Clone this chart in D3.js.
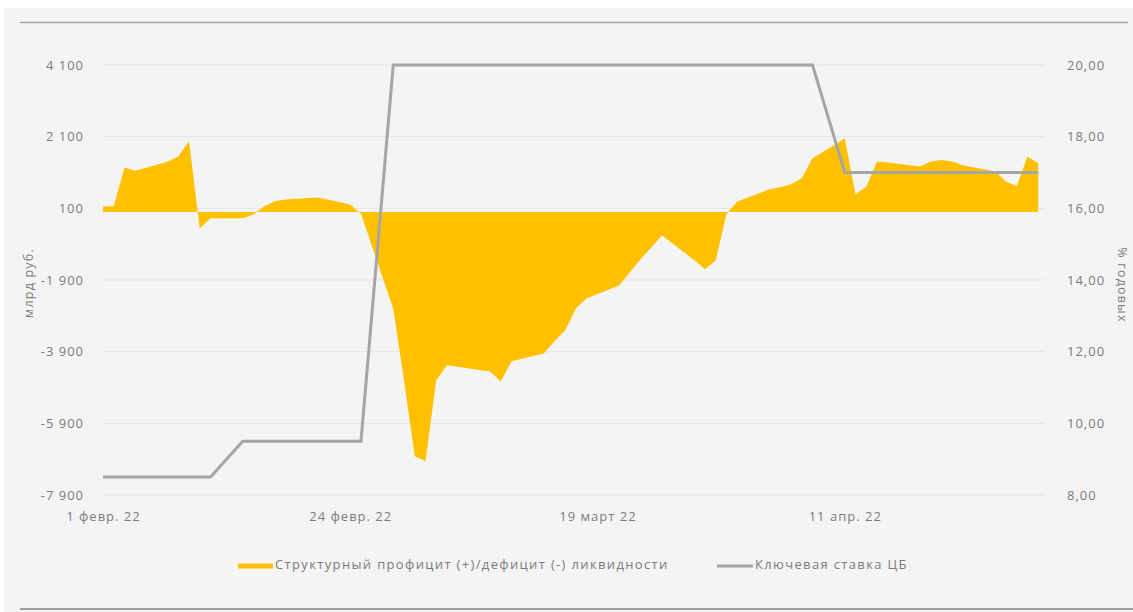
<!DOCTYPE html>
<html>
<head>
<meta charset="utf-8">
<script src="https://cdn.jsdelivr.net/npm/d3@7"></script>
<style>
  html, body { margin: 0; padding: 0; background: #ffffff; }
  svg { display: block; }
  text { font-family: "Open Sans", "DejaVu Sans", sans-serif; fill: #7b7b7b; }
</style>
</head>
<body>
<svg id="chart" width="1133" height="612"></svg>
<script>
// ---- Data ----
const dates = [
  "2022-02-01","2022-02-02","2022-02-03","2022-02-04","2022-02-07","2022-02-08","2022-02-09","2022-02-10","2022-02-11",
  "2022-02-14","2022-02-15","2022-02-16","2022-02-17","2022-02-18","2022-02-21","2022-02-22","2022-02-24","2022-02-25",
  "2022-02-28","2022-03-01","2022-03-02","2022-03-03","2022-03-04","2022-03-05","2022-03-09","2022-03-10","2022-03-11",
  "2022-03-14","2022-03-15","2022-03-16","2022-03-17","2022-03-18","2022-03-21","2022-03-22","2022-03-23","2022-03-24",
  "2022-03-25","2022-03-28","2022-03-29","2022-03-30","2022-03-31","2022-04-01","2022-04-04","2022-04-05","2022-04-06",
  "2022-04-07","2022-04-08","2022-04-11","2022-04-12","2022-04-13","2022-04-14","2022-04-15","2022-04-18","2022-04-19",
  "2022-04-20","2022-04-21","2022-04-22","2022-04-25","2022-04-26","2022-04-27","2022-04-28","2022-04-29"
];
const liquidity = [
  150, 160, 1240, 1150, 1400, 1550, 1970, -460, -180,
  -180, -70, 160, 300, 350, 400, 340, 210, -50,
  -2700, -4700, -6820, -6960, -4700, -4280, -4450, -4730, -4170,
  -3950, -3610, -3300, -2690, -2410, -2050, -1690, -1320, -990,
  -650, -1350, -1600, -1350, -60, 290, 630, 690, 770,
  940, 1500, 2050, 490, 700, 1410, 1380, 1270, 1410,
  1450, 1410, 1300, 1130, 850, 720, 1550, 1360
];
const keyRate = [
  8.5, 8.5, 8.5, 8.5, 8.5, 8.5, 8.5, 8.5, 8.5,
  9.5, 9.5, 9.5, 9.5, 9.5, 9.5, 9.5, 9.5, 9.5,
  20, 20, 20, 20, 20, 20, 20, 20, 20,
  20, 20, 20, 20, 20, 20, 20, 20, 20,
  20, 20, 20, 20, 20, 20, 20, 20, 20,
  20, 20, 17, 17, 17, 17, 17, 17, 17,
  17, 17, 17, 17, 17, 17, 17, 17
];
const leftTicks = [-7900, -5900, -3900, -1900, 100, 2100, 4100];
const rightTicks = [8, 10, 12, 14, 16, 18, 20];
const xTickDates = ["2022-02-01", "2022-02-24", "2022-03-19", "2022-04-11"];
const xTickLabels = ["1 февр. 22", "24 февр. 22", "19 март 22", "11 апр. 22"];
const seriesNames = ["Структурный профицит (+)/дефицит (-) ликвидности", "Ключевая ставка ЦБ"];
const leftTitle = "млрд руб.";
const rightTitle = "% годовых";

// ---- Setup ----
const parse = d3.timeParse("%Y-%m-%d");
const data = dates.map((d, i) => ({ date: parse(d), liq: liquidity[i], rate: keyRate[i] }));

const svg = d3.select("#chart");
const W = 1133, H = 612;
const plot = { left: 103, right: 1038.25, top: 65, bottom: 495 };

const x = d3.scaleTime()
  .domain([parse("2022-02-01"), parse("2022-04-29")])
  .range([plot.left, plot.right]);
const yL = d3.scaleLinear().domain([-7900, 4100]).range([plot.bottom, plot.top]);
const yR = d3.scaleLinear().domain([8, 20]).range([plot.bottom, plot.top]);

const FONT = 13;
const LS = "1px";

// background panel
svg.append("rect").attr("x", 4).attr("y", 8).attr("width", W - 4).attr("height", H - 8).attr("fill", "#f4f4f4");
// frame lines
svg.append("line").attr("x1", 20).attr("x2", 1128).attr("y1", 22.5).attr("y2", 22.5)
  .attr("stroke", "#a3a3a3").attr("stroke-width", 1.5);
svg.append("line").attr("x1", 20).attr("x2", W).attr("y1", 609).attr("y2", 609)
  .attr("stroke", "#9c9c9c").attr("stroke-width", 2);

// gridlines
svg.append("g").selectAll("line").data(leftTicks).join("line")
  .attr("x1", plot.left).attr("x2", 1045)
  .attr("y1", d => yL(d)).attr("y2", d => yL(d))
  .attr("stroke", "#e3e3e3").attr("stroke-width", 1);

// area
const area = d3.area()
  .x(d => x(d.date))
  .y0(yL(0))
  .y1(d => yL(d.liq));
svg.append("path").datum(data).attr("d", area).attr("fill", "#FFC000");

// rate line
const line = d3.line().x(d => x(d.date)).y(d => yR(d.rate));
svg.append("path").datum(data).attr("d", line)
  .attr("fill", "none").attr("stroke", "#a5a5a5").attr("stroke-width", 3).attr("stroke-linejoin", "miter");

function styleTicks(g) {
  g.select(".domain").remove();
  g.selectAll("text").attr("font-size", FONT).attr("fill", "#7b7b7b")
    .style("font-family", "'Open Sans', sans-serif").style("letter-spacing", LS);
}

// left axis
const leftAxis = d3.axisLeft(yL).tickValues(leftTicks).tickSize(0).tickPadding(0)
  .tickFormat(d => d3.format(",")(d).replace(/,/g, " ").replace("\u2212", "-"));
const gL = svg.append("g").attr("transform", "translate(84,0)").call(leftAxis);
styleTicks(gL);

// right axis
const rightAxis = d3.axisRight(yR).tickValues(rightTicks).tickSize(0).tickPadding(0)
  .tickFormat(d => d3.format(".2f")(d).replace(".", ","));
const gR = svg.append("g").attr("transform", "translate(1067,0)").call(rightAxis);
styleTicks(gR);

// x axis
const xAxis = d3.axisBottom(x).tickValues(xTickDates.map(parse)).tickSize(0).tickPadding(0)
  .tickFormat((d, i) => xTickLabels[i]);
const gX = svg.append("g").attr("transform", "translate(0,512)").call(xAxis);
styleTicks(gX);

// axis titles
svg.append("text").attr("transform", "translate(30,283) rotate(-90)")
  .attr("text-anchor", "middle").attr("dominant-baseline", "middle").attr("font-size", 12.5)
  .style("letter-spacing", "1.2px").text(leftTitle);
svg.append("text").attr("transform", "translate(1121,285) rotate(90)")
  .attr("text-anchor", "middle").attr("dominant-baseline", "middle").attr("font-size", 12.5)
  .style("letter-spacing", "1.2px").text(rightTitle);

// legend
const lg = svg.append("g");
lg.append("rect").attr("x", 238).attr("y", 563.5).attr("width", 35).attr("height", 5).attr("fill", "#FFC000");
lg.append("text").attr("x", 275).attr("y", 566).attr("dominant-baseline", "middle")
  .attr("font-size", FONT).style("letter-spacing", "1.35px").text(seriesNames[0]);
lg.append("line").attr("x1", 717).attr("x2", 753).attr("y1", 566).attr("y2", 566)
  .attr("stroke", "#a5a5a5").attr("stroke-width", 3);
lg.append("text").attr("x", 755).attr("y", 566).attr("dominant-baseline", "middle")
  .attr("font-size", FONT).style("letter-spacing", "1.35px").text(seriesNames[1]);
</script>
</body>
</html>
